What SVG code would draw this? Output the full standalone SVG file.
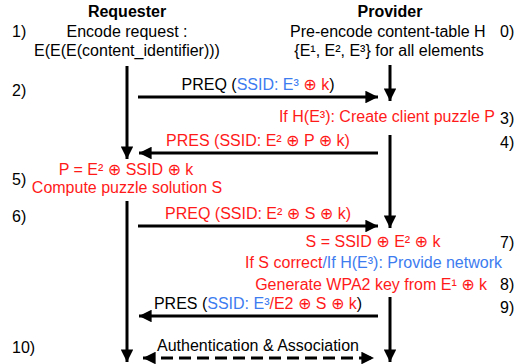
<svg xmlns="http://www.w3.org/2000/svg" width="521" height="364" viewBox="0 0 521 364">
<defs>
<marker id="ah" viewBox="0 0 10 10" refX="10" refY="5" markerWidth="4.2" markerHeight="4.2" markerUnits="strokeWidth" orient="auto-start-reverse">
<path d="M0,0 L10,5 L0,10 Z" fill="#000"/>
</marker>
</defs>
<style>
text{font-family:"Liberation Sans","DejaVu Sans",sans-serif;font-size:16px;fill:#000}
.b{font-weight:bold}
.r{fill:#ff1a1a}
.u{fill:#3d7cf0}
.m{text-anchor:middle}
.e{text-anchor:end}
.ln{stroke:#000;stroke-width:3;fill:none}
.d{stroke-dasharray:12,6}
</style>
<rect width="521" height="364" fill="#fff"/>
<g id="connectors">
<line class="ln" x1="127" y1="66" x2="127" y2="159" marker-end="url(#ah)"/>
<line class="ln" x1="127" y1="201" x2="127" y2="362" marker-end="url(#ah)"/>
<line class="ln" x1="390" y1="65" x2="390" y2="101" marker-end="url(#ah)"/>
<line class="ln" x1="390" y1="135" x2="390" y2="228" marker-end="url(#ah)"/>
<line class="ln" x1="390" y1="297" x2="390" y2="362" marker-end="url(#ah)"/>
<line class="ln" x1="138" y1="97" x2="378" y2="97" marker-end="url(#ah)"/>
<line class="ln" x1="378" y1="153" x2="139" y2="153" marker-end="url(#ah)"/>
<line class="ln" x1="138" y1="226" x2="378" y2="226" marker-end="url(#ah)"/>
<line class="ln" x1="378" y1="316" x2="139" y2="316" marker-end="url(#ah)"/>
<line class="ln d" x1="143" y1="358" x2="374" y2="358" marker-start="url(#ah)" marker-end="url(#ah)"/>
</g>
<g id="requester">
<text class="b m" x="127" y="17">Requester</text>
<text x="12" y="37">1)</text>
<text class="m" x="127" y="37">Encode request :</text>
<text class="m" x="127" y="56">E(E(E(content_identifier)))</text>
</g>
<g id="provider">
<text class="b m" x="390" y="17">Provider</text>
<text x="290" y="37">Pre-encode content-table H</text>
<text x="500" y="37">0)</text>
<text class="m" x="389" y="56">{E¹, E², E³} for all elements</text>
</g>
<g id="step2">
<text x="12" y="96">2)</text>
<text class="m" x="258" y="90">PREQ (<tspan class="u">SSID: E³</tspan> <tspan class="r">⊕ k</tspan>)</text>
</g>
<g id="step3">
<text class="r e" x="495" y="122">If H(E³): Create client puzzle P</text>
<text x="500" y="124">3)</text>
</g>
<g id="step4">
<text class="r m" x="258" y="146">PRES (SSID: E² ⊕ P ⊕ k)</text>
<text x="500" y="148">4)</text>
</g>
<g id="step5">
<text class="r m" x="126" y="175">P = E² ⊕ SSID ⊕ k</text>
<text x="12" y="185">5)</text>
<text class="r m" x="127" y="193">Compute puzzle solution S</text>
</g>
<g id="step6">
<text x="12" y="222">6)</text>
<text class="r m" x="258" y="219">PREQ (SSID: E² ⊕ S ⊕ k)</text>
</g>
<g id="step7">
<text class="r m" x="373" y="247">S = SSID ⊕ E² ⊕ k</text>
<text x="500" y="248">7)</text>
<text class="e" x="502" y="268"><tspan class="r">If S correct</tspan><tspan class="u">/If H(E³): Provide network</tspan></text>
</g>
<g id="step8">
<text class="r e" x="487" y="290">Generate WPA2 key from E¹ ⊕ k</text>
<text x="500" y="290">8)</text>
</g>
<g id="step9">
<text x="500" y="313">9)</text>
<text class="m" x="258" y="309">PRES (<tspan class="u">SSID: E³</tspan><tspan class="r">/E2 ⊕ S ⊕ k</tspan>)</text>
</g>
<g id="step10">
<text x="12" y="353">10)</text>
<text class="m" x="258" y="351">Authentication &amp; Association</text>
</g>
</svg>
